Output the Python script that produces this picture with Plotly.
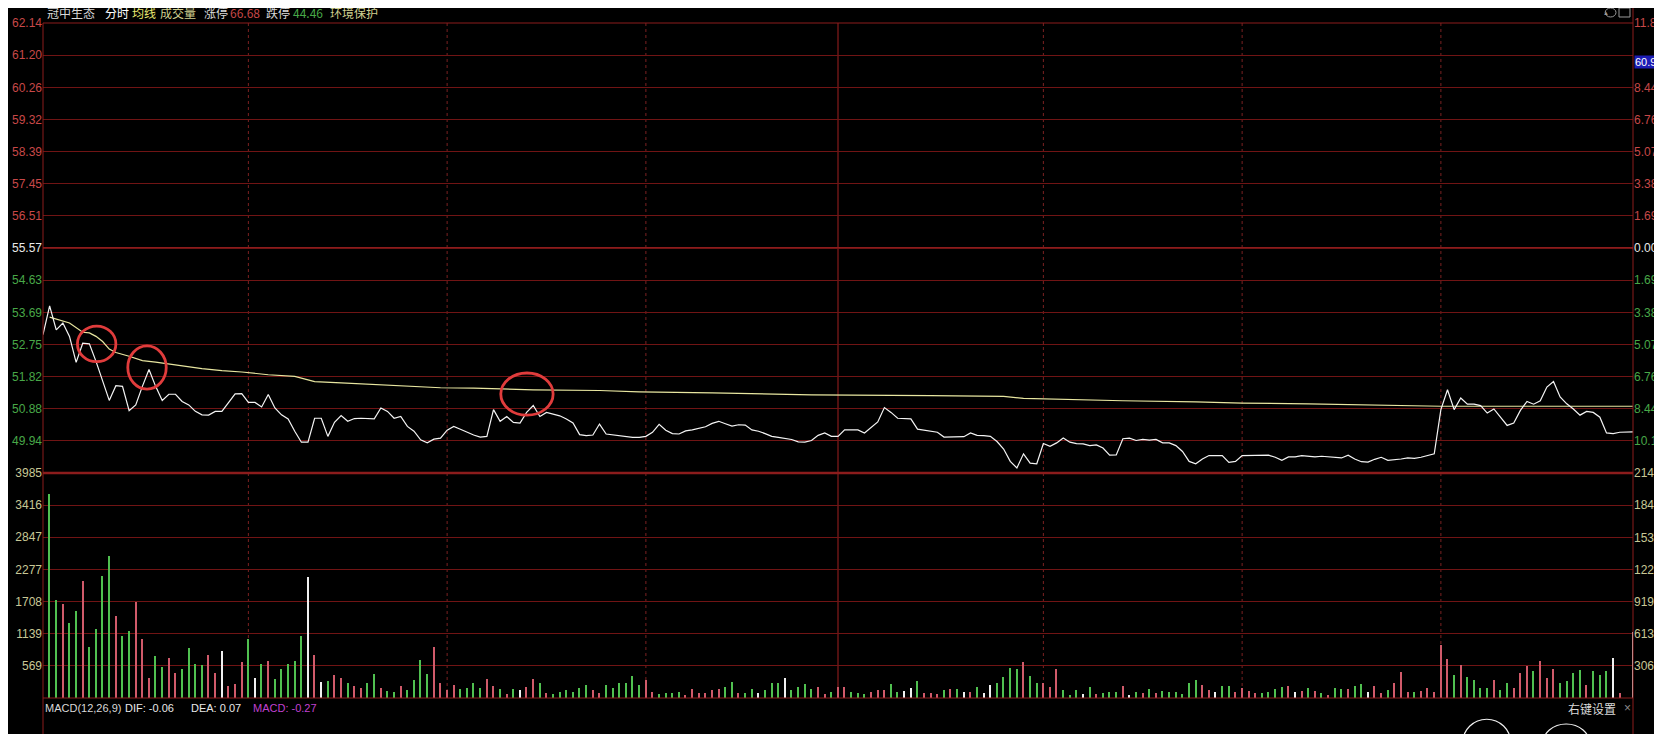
import plotly.graph_objects as go

# ---- data (one point per minute) ----
minutes = list(range(241))

price = [
    53.04, 53.88, 53.18, 53.38, 52.99, 52.23, 52.79, 52.77, 52.26, 51.72,
    51.12, 51.55, 51.53, 50.82, 50.99, 51.53, 52.02, 51.53, 51.12, 51.30,
    51.30, 51.09, 50.99, 50.80, 50.70, 50.69, 50.80, 50.80, 51.04, 51.31,
    51.32, 51.06, 51.06, 50.93, 51.29, 50.90, 50.70, 50.58, 50.22, 49.90,
    49.90, 50.60, 50.60, 50.07, 50.48, 50.68, 50.51, 50.59, 50.60, 50.58,
    50.58, 50.90, 50.80, 50.60, 50.65, 50.36, 50.22, 49.97, 49.88, 49.99,
    50.02, 50.25, 50.36, 50.28, 50.19, 50.11, 50.05, 50.07, 50.85, 50.51,
    50.65, 50.48, 50.46, 50.77, 50.97, 50.65, 50.77, 50.71, 50.67, 50.58,
    50.46, 50.12, 50.09, 50.11, 50.43, 50.14, 50.11, 50.10, 50.07, 50.04,
    50.04, 50.07, 50.19, 50.42, 50.25, 50.15, 50.14, 50.23, 50.26, 50.30,
    50.35, 50.45, 50.51, 50.44, 50.37, 50.41, 50.40, 50.26, 50.22, 50.15,
    50.07, 50.04, 50.02, 49.98, 49.91, 49.90, 49.95, 50.10, 50.17, 50.07,
    50.07, 50.26, 50.26, 50.26, 50.17, 50.33, 50.49, 50.91, 50.77, 50.60,
    50.58, 50.58, 50.28, 50.25, 50.24, 50.19, 50.05, 50.06, 50.06, 50.06,
    50.17, 50.10, 50.09, 50.07, 49.92, 49.70, 49.34, 49.15, 49.56, 49.29,
    49.27, 49.86, 49.78, 49.88, 50.02, 49.90, 49.86, 49.85, 49.80, 49.82,
    49.73, 49.52, 49.53, 50.00, 50.02, 49.95, 49.98, 49.96, 49.98, 49.88,
    49.88, 49.80, 49.63, 49.34, 49.27, 49.41, 49.51, 49.51, 49.51, 49.31,
    49.34, 49.51, 49.51, 49.53, 49.53, 49.52, 49.46, 49.37, 49.47, 49.47,
    49.51, 49.50, 49.47, 49.49, 49.48, 49.47, 49.44, 49.52, 49.41, 49.33,
    49.32, 49.40, 49.46, 49.37, 49.38, 49.41, 49.44, 49.43, 49.46, 49.51,
    49.56, 50.85, 51.43, 50.85, 51.19, 51.01, 51.01, 50.97, 50.75, 50.87,
    50.63, 50.39, 50.46, 50.83, 51.09, 51.01, 51.11, 51.51, 51.67, 51.22,
    51.02, 50.87, 50.69, 50.80, 50.77, 50.63, 50.17, 50.15, 50.19, 50.20, 50.20,
]

# average price line (read where it changes)
avg_min = [1, 2, 4, 6, 7, 8, 9, 10, 11, 13, 15, 17, 20, 22, 24, 27, 30, 34, 38, 40,
           41, 45, 50, 55, 60, 65, 74, 84, 90, 101, 110, 116, 134, 145, 148, 152,
           163, 174, 181, 191, 200, 207, 211, 240]
avg_price = [53.55, 53.50, 53.38, 53.11, 53.09, 52.99, 52.84, 52.62, 52.52, 52.41,
             52.28, 52.24, 52.15, 52.09, 52.05, 51.99, 51.95, 51.87, 51.82, 51.72,
             51.67, 51.63, 51.58, 51.53, 51.49, 51.48, 51.43, 51.41, 51.37, 51.34,
             51.31, 51.28, 51.26, 51.24, 51.18, 51.16, 51.11, 51.08, 51.04, 51.02,
             50.98, 50.97, 50.95, 50.95]

volume = [
    0, 3616, 1738, 1667, 1327, 1532, 2078, 904, 1215, 2166,
    2518, 1444, 1092, 1180, 1708, 1039, 346, 740, 552, 710,
    446, 505, 880, 599, 581, 757, 446, 834, 217, 247,
    640, 1051, 358, 599, 657, 340, 511, 610, 657, 1092,
    2137, 757, 288, 305, 405, 358, 258, 211, 182, 270,
    417, 182, 129, 112, 217, 141, 317, 669, 423, 904,
    270, 141, 229, 153, 182, 258, 182, 335, 211, 153,
    65, 158, 141, 188, 335, 270, 82, 65, 112, 141,
    112, 170, 229, 141, 82, 229, 170, 270, 270, 387,
    229, 317, 112, 70, 82, 82, 112, 53, 158, 82,
    82, 141, 153, 200, 288, 82, 94, 158, 94, 141,
    258, 258, 346, 141, 200, 241, 153, 200, 65, 100,
    200, 200, 112, 82, 65, 112, 141, 141, 247, 112,
    129, 182, 299, 94, 82, 70, 141, 153, 153, 112,
    112, 200, 94, 229, 258, 376, 534, 522, 640, 387,
    258, 258, 188, 505, 141, 53, 141, 70, 188, 65,
    94, 112, 100, 211, 53, 112, 94, 158, 94, 123,
    112, 112, 70, 270, 317, 229, 141, 112, 217, 205,
    112, 182, 123, 82, 94, 112, 158, 200, 211, 100,
    129, 182, 123, 82, 53, 170, 153, 153, 211, 247,
    112, 211, 82, 141, 270, 458, 100, 112, 123, 182,
    112, 945, 687, 405, 581, 376, 317, 182, 170, 317,
    141, 258, 182, 446, 569, 481, 652, 358, 511, 270,
    305, 434, 493, 229, 481, 405, 475, 710, 82, 0, 1168,
]

# g = down minute, r = up minute, w = flat
vol_side = "".join([
    "wggrggrggg", "grggrrrggr", "rggggrrwrr", "rgwgrggggg", "wrwgrrgrrg",
    "grggrggggr", "rrrggggrrg", "rgwrrgrggg", "gggrrggggg", "grrggggrrr",
    "rrrggrggwg", "ggwggggrrg", "rrgggrrrgg", "wwgrrrgrgw", "rgwwggggrg",
    "grrrgggwgr", "gggrwgrgrg", "gggggrrwgg", "rrrrggggrw", "rgrgrggrgg",
    "wrrgrrrgrr", "rrrgrggggr", "ggrrrgrrrg", "gggrgggwrgw",
])

price_ticks = [49.94, 50.88, 51.82, 52.75, 53.69, 54.63, 55.57,
               56.51, 57.45, 58.39, 59.32, 60.26, 61.20, 62.14]
# the 61.20 percent label sits under the crosshair price tag, so it is blank
pct_labels = ["10.13%", "8.44%", "6.76%", "5.07%", "3.38%", "1.69%", "0.00%",
              "1.69%", "3.38%", "5.07%", "6.76%", "8.44%", "", "11.82%"]
vol_ticks = [569, 1139, 1708, 2277, 2847, 3416, 3985]
vol_right_ticks = [306.6, 613.2, 919.8, 1226, 1533, 1840, 2146]
vol_right_labels = ["306.6", "613.2", "919.8", "1226", "1533", "1840", "2146"]
half_hours = [31, 61, 91, 151, 181, 211]
noon = 120

# hand-drawn red circles (minute / price bounds)
circ_x0 = [5.2, 12.8, 69.1]
circ_x1 = [11.0, 18.6, 77.0]
circ_y0 = [52.25, 51.45, 50.69]
circ_y1 = [53.29, 52.71, 51.92]

RED = "#c84848"
GREEN = "#48a848"
WHITE = "#e8e8e8"
KHAKI = "#c8c896"
GRID = "#701414"
LATIN = "Liberation Sans"
CJK = "Noto Sans CJK SC"

# the page body adds an 8px offset, so margins are trimmed by 8px
OFF = 8


def colored(text, color):
    return f'<span style="color:{color}">{text}</span>'


left_text = []
for v in price_ticks:
    c = WHITE if abs(v - 55.57) < 0.01 else (RED if v > 55.57 else GREEN)
    left_text.append(colored(f"{v:.2f}", c))
right_text = []
for v, t in zip(price_ticks, pct_labels):
    c = WHITE if abs(v - 55.57) < 0.01 else (RED if v > 55.57 else GREEN)
    right_text.append(colored(t, c) if t else "")

side_color = {"g": "#50c050", "r": "#d05a6a", "w": "#f0f0f0"}
bar_colors = [side_color[s] for s in vol_side]

fig = go.Figure()

fig.add_trace(go.Bar(
    x=minutes, y=volume, marker_color=bar_colors, marker_line_width=0,
    width=0.2, xaxis="x", yaxis="y2", showlegend=False,
))
fig.add_trace(go.Scatter(
    x=avg_min, y=avg_price, mode="lines", line=dict(color="#e8e6a0", width=1.2),
    yaxis="y", showlegend=False,
))
fig.add_trace(go.Scatter(
    x=minutes, y=price, mode="lines", line=dict(color="#f4f4f4", width=1.2),
    yaxis="y", showlegend=False,
))
# dummy traces so the right-hand axes get drawn
fig.add_trace(go.Scatter(x=[None], y=[None], yaxis="y3", showlegend=False))
fig.add_trace(go.Scatter(x=[None], y=[None], yaxis="y4", showlegend=False))

axis_common = dict(showline=False, zeroline=False, ticks="", automargin=False,
                   tickfont=dict(family=LATIN, size=12))

fig.update_layout(
    width=1662, height=734,
    paper_bgcolor="#000000", plot_bgcolor="#000000",
    margin=dict(l=43 - OFF, r=1662 - 1633 + OFF, t=23 - OFF, b=734 - 698 + OFF),
    bargap=0,
    xaxis=dict(range=[0, 240], showgrid=False, showticklabels=False, automargin=False,
               zeroline=False, showline=False, anchor="y2"),
    yaxis=dict(domain=[0.3333, 1], range=[49.0, 62.14], tickvals=price_ticks,
               ticktext=left_text, gridcolor=GRID, gridwidth=1, side="left",
               anchor="x", **axis_common),
    yaxis3=dict(overlaying="y", range=[49.0, 62.14], tickvals=price_ticks,
                ticktext=right_text, showgrid=False, side="right", anchor="x",
                **axis_common),
    yaxis2=dict(domain=[0, 0.3333], range=[0, 3985], tickvals=vol_ticks,
                ticktext=[colored(str(v), KHAKI) for v in vol_ticks],
                gridcolor=GRID, gridwidth=1, side="left", anchor="x",
                **axis_common),
    yaxis4=dict(overlaying="y2", range=[0, 2146.2], tickvals=vol_right_ticks,
                ticktext=[colored(t, KHAKI) for t in vol_right_labels],
                showgrid=False, side="right", anchor="x", **axis_common),
)

shapes = []
# half-hour separators
for m in half_hours:
    shapes.append(dict(type="line", xref="x", yref="paper", x0=m, x1=m, y0=0, y1=1,
                       line=dict(color="#7a2020", width=1, dash="dot"), layer="below"))
shapes.append(dict(type="line", xref="x", yref="paper", x0=noon, x1=noon, y0=0, y1=1,
                   line=dict(color="#a02020", width=1), layer="below"))
# pre-close line and panel separator
shapes.append(dict(type="line", xref="paper", yref="y", x0=0, x1=1, y0=55.57, y1=55.57,
                   line=dict(color="#8c1c1c", width=2), layer="below"))
shapes.append(dict(type="line", xref="paper", yref="paper", x0=0, x1=1, y0=0.3333, y1=0.3333,
                   line=dict(color="#8c1c1c", width=2.5), layer="below"))
# frame
for y in (1.0, 0.0):
    shapes.append(dict(type="line", xref="paper", yref="paper", x0=0, x1=1, y0=y, y1=y,
                       line=dict(color="#8c1c1c", width=1)))
shapes.append(dict(type="line", xref="paper", yref="paper", x0=0, x1=0, y0=-0.07, y1=1,
                   line=dict(color="#8c1c1c", width=1)))
shapes.append(dict(type="line", xref="paper", yref="paper", x0=1, x1=1, y0=-0.07, y1=1.04,
                   line=dict(color="#8c1c1c", width=1)))
# hand-drawn circles
for a, b, c, d in zip(circ_x0, circ_x1, circ_y0, circ_y1):
    shapes.append(dict(type="circle", xref="x", yref="y", x0=a, x1=b, y0=c, y1=d,
                       line=dict(color="#e03c3c", width=2.8)))
# partial white scribbles in the MACD pane at the bottom
shapes.append(dict(type="circle", xref="paper", yref="paper", x0=0.893, x1=0.923,
                   y0=-0.10, y1=-0.0315, line=dict(color="#f0f0f0", width=1.2)))
shapes.append(dict(type="circle", xref="paper", yref="paper", x0=0.943, x1=0.973,
                   y0=-0.10, y1=-0.0385, line=dict(color="#f0f0f0", width=1.2)))
# toolbar icons top right
shapes.append(dict(type="circle", xref="paper", yref="paper", x0=0.9825, x1=0.9893,
                   y0=1.0089, y1=1.0222, line=dict(color="#9a9a9a", width=1)))
shapes.append(dict(type="rect", xref="paper", yref="paper", x0=0.9912, x1=0.9981,
                   y0=1.0089, y1=1.0222, line=dict(color="#9a9a9a", width=1)))
fig.update_layout(shapes=shapes)


def px_x(px):
    return (px - 43) / 1590


def px_y(py):
    return (698 - py) / 675


annotations = []
header = [
    (45, "冠中生态", "#d8d8d8"), (103, "分时", "#ffffff"), (130, "均线", "#e8e870"),
    (158, "成交量", "#d0d090"), (202, "涨停", "#d8d8d8"), (228, "66.68", "#c84848"),
    (264, "跌停", "#d8d8d8"), (291, "44.46", "#48a848"), (328, "环境保护", "#d0d090"),
]
for x, t, c in header:
    annotations.append(dict(x=px_x(x), y=px_y(12), xref="paper", yref="paper",
                            text=t, showarrow=False, xanchor="left", yanchor="middle",
                            font=dict(family=CJK, size=12, color=c)))
footer = [
    (43, "MACD(12,26,9)", "#d8d8d8"), (123, "DIF: -0.06", "#e8e8e8"),
    (189, "DEA: 0.07", "#e8e8e8"), (251, "MACD: -0.27", "#c040d0"),
]
for x, t, c in footer:
    annotations.append(dict(x=px_x(x), y=px_y(708), xref="paper", yref="paper",
                            text=t, showarrow=False, xanchor="left", yanchor="middle",
                            font=dict(family=LATIN, size=11, color=c)))
annotations.append(dict(x=px_x(1566), y=px_y(708), xref="paper", yref="paper",
                        text="右键设置", showarrow=False, xanchor="left", yanchor="middle",
                        font=dict(family=CJK, size=12, color="#d8d8d8")))
annotations.append(dict(x=px_x(1622), y=px_y(708), xref="paper", yref="paper",
                        text="×", showarrow=False, xanchor="left", yanchor="middle",
                        font=dict(family=LATIN, size=12, color="#8a8a8a")))
annotations.append(dict(x=px_x(1606), y=px_y(12.5), xref="paper", yref="paper",
                        text="▲", showarrow=False, xanchor="center", yanchor="middle",
                        font=dict(family=LATIN, size=6, color="#9a9a9a")))
# crosshair price tag on the right axis
annotations.append(dict(x=1, y=px_y(62), xref="paper", yref="paper", text="60.94",
                        showarrow=False, xanchor="left", yanchor="middle",
                        bgcolor="#1c1cb4", borderpad=0, xshift=1,
                        font=dict(family=LATIN, size=11, color="#ffffff")))
fig.update_layout(annotations=annotations)

fig.write_html("out.html")
